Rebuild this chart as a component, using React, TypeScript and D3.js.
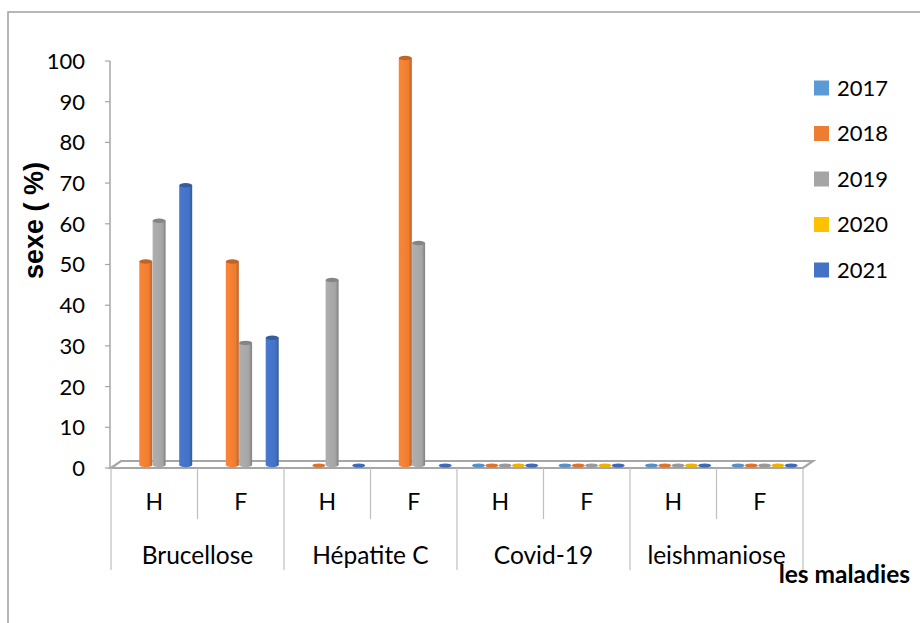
import React from "react";
import * as d3 from "d3";

const series = ["2017", "2018", "2019", "2020", "2021"];
const colors = ["#5B9BD5", "#ED7D31", "#A5A5A5", "#FFC000", "#4472C4"];
const diseases = ["Brucellose", "Hépatite C", "Covid-19", "leishmaniose"];
const sexes = ["H", "F"];
// values per series, in order: Bruc H, Bruc F, HepC H, HepC F, Covid H, Covid F, Leish H, Leish F
const v2017: (number | null)[] = [null, null, null, null, 0, 0, 0, 0];
const v2018: (number | null)[] = [50, 50, 0, 100, 0, 0, 0, 0];
const v2019: (number | null)[] = [60, 30, 45.45, 54.55, 0, 0, 0, 0];
const v2020: (number | null)[] = [null, null, null, null, 0, 0, 0, 0];
const v2021: (number | null)[] = [68.75, 31.25, 0, 0, 0, 0, 0, 0];
const yTicks = [0, 10, 20, 30, 40, 50, 60, 70, 80, 90, 100];

const values = [v2017, v2018, v2019, v2020, v2021];

export default function App() {
  const W = 920, H = 623;
  const x0 = 111, x1 = 803;
  const yBase = 468, yTop = 61;
  const dx = 5, dy = -3;
  const subcats = diseases.flatMap((d) => sexes.map((s) => d + "|" + s));
  const x = d3.scaleBand<string>().domain(subcats).range([x0, x1]).padding(0);
  const step = x.step();
  const inner = d3.scaleBand<string>().domain(series).range([10, 76.5]).padding(0);
  const y = d3.scaleLinear().domain([0, 100]).range([yBase, yTop]);
  const bw = 13;
  const ry = 2.2;
  const font = "Lato, 'Open Sans', sans-serif";
  const lineC = "#A6A6A6";

  return (
    <svg width={W} height={H} style={{ position: "absolute", left: 0, top: 0 }}>
      <defs>
        {colors.map((c, i) => (
          <linearGradient key={i} id={"g" + i} x1="0" x2="1" y1="0" y2="0">
            <stop offset="0%" stopColor={d3.color(c)!.brighter(0.15).toString()} />
            <stop offset="35%" stopColor={d3.color(c)!.brighter(0.1).toString()} />
            <stop offset="75%" stopColor={c} />
            <stop offset="100%" stopColor={d3.color(c)!.darker(0.7).toString()} />
          </linearGradient>
        ))}
      </defs>
      <rect x={0} y={0} width={W} height={H} fill="#fff" />
      <rect x={8} y={12} width={W} height={H} fill="none" stroke="#A0A0A0" strokeWidth={1.5} />

      {/* floor */}
      <polygon
        points={`${x0},${yBase} ${x0 + 10},${yBase - 7} ${x1 + 10},${yBase - 7} ${x1},${yBase}`}
        fill="#fff"
        stroke={lineC}
        strokeWidth={2.2}
      />

      {/* bars */}
      {subcats.map((sc, ci) =>
        series.map((s, si) => {
          const v = values[si][ci];
          if (v === null) return null;
          const bx = (x(sc) as number) + (inner(s) as number) + dx;
          const cx = bx + bw / 2;
          const c = colors[si];
          const yb = y(0) + dy;
          if (v === 0) {
            return (
              <ellipse key={sc + s} cx={cx} cy={yb + 0.5} rx={bw / 2} ry={2} fill={d3.color(c)!.darker(0.2).toString()} />
            );
          }
          const yt = y(v) + dy;
          return (
            <g key={sc + s}>
              <rect x={bx} y={yt} width={bw} height={yb - yt} fill={`url(#g${si})`} />
              <ellipse cx={cx} cy={yb} rx={bw / 2} ry={ry} fill={`url(#g${si})`} />
              <ellipse cx={cx} cy={yt} rx={bw / 2} ry={ry} fill={d3.color(c)!.darker(0.6).toString()} />
            </g>
          );
        })
      )}

      {/* y axis */}
      <line x1={110} x2={110} y1={yTop} y2={yBase} stroke={lineC} strokeWidth={1.5} />
      {yTicks.map((t) => (
        <g key={t}>
          <line x1={105} x2={110} y1={y(t)} y2={y(t)} stroke={lineC} strokeWidth={1.2} />
          <text x={85} y={y(t)} dy="0.36em" textAnchor="end" fontFamily={font} fontSize={22} fill="#000">
            {t}
          </text>
        </g>
      ))}
      <text
        transform={`translate(43,${(164 + 277) / 2}) rotate(-90)`}
        textAnchor="middle"
        fontFamily="'Liberation Sans', Arial, sans-serif"
        fontWeight="bold"
        fontSize={27}
        fill="#000"
      >
        sexe ( %)
      </text>

      {/* category axis */}
      {d3.range(subcats.length + 1).map((i) => {
        const xx = x0 + i * step;
        return (
          <line
            key={i}
            x1={xx}
            x2={xx}
            y1={yBase}
            y2={i % 2 === 0 ? 570 : 519}
            stroke="#BFBFBF"
            strokeWidth={1.2}
          />
        );
      })}
      {subcats.map((sc) => (
        <text
          key={sc}
          x={(x(sc) as number) + step / 2}
          y={502}
          dy="0.36em"
          textAnchor="middle"
          fontFamily={font}
          fontSize={23}
          fill="#000"
        >
          {sc.split("|")[1]}
        </text>
      ))}
      {diseases.map((d, i) => (
        <text
          key={d}
          x={x0 + (i * 2 + 1) * step}
          y={555}
          dy="0.36em"
          textAnchor="middle"
          fontFamily={font}
          fontSize={24.5}
          fill="#000"
        >
          {d}
        </text>
      ))}
      <text x={910} y={583} textAnchor="end" fontFamily={font} fontWeight="bold" fontSize={24.5} fill="#000">
        les maladies
      </text>

      {/* legend */}
      {series.map((s, i) => (
        <g key={s} transform={`translate(814,${88 + i * 45.5})`}>
          <rect x={0} y={-7.5} width={15} height={15} fill={colors[i]} />
          <text x={23} y={0} dy="0.36em" fontFamily={font} fontSize={22} fill="#000">
            {s}
          </text>
        </g>
      ))}
    </svg>
  );
}
